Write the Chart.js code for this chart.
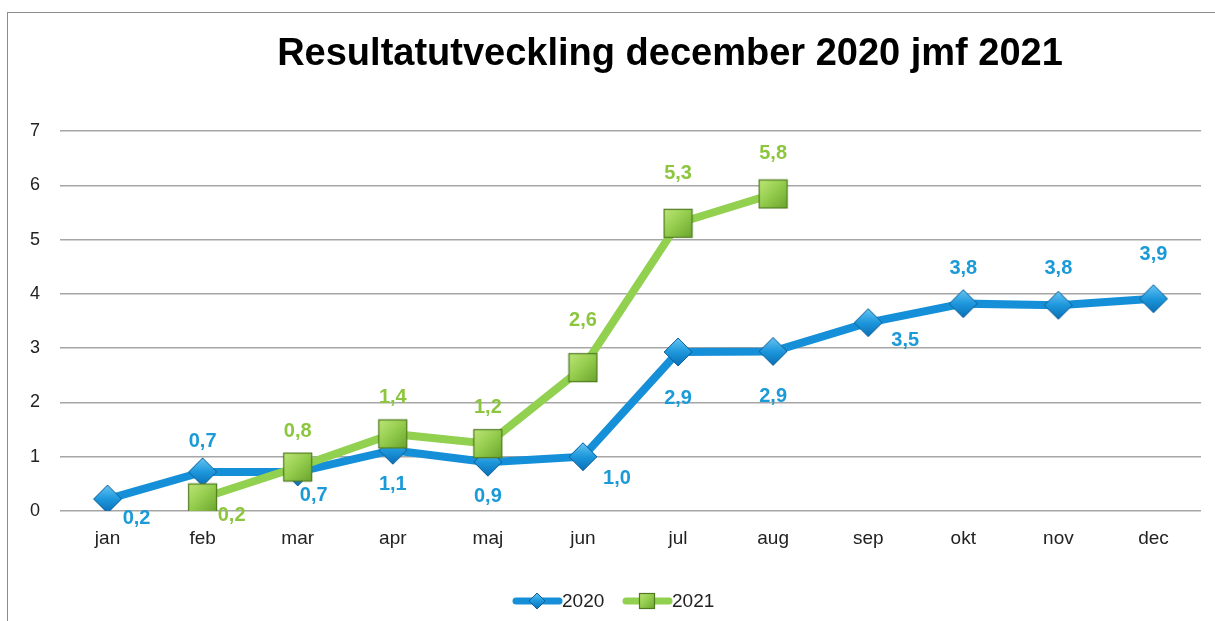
<!DOCTYPE html>
<html>
<head>
<meta charset="utf-8">
<script src="https://cdn.jsdelivr.net/npm/chart.js@4"></script>
<style>
  html, body { margin: 0; padding: 0; background: #fff; }
  #wrap { position: relative; width: 1215px; height: 621px; overflow: hidden; }
  #frame { position: absolute; left: 7px; top: 12px; width: 1300px; height: 700px; border: 1.5px solid #8c8c8c; box-sizing: border-box; }
  #c { position: absolute; left: 0; top: 0; }
</style>
</head>
<body>
<div id="wrap">
  <div id="frame"></div>
  <canvas id="c" width="1215" height="621"></canvas>
</div>
<script>
// Resultatutveckling per manad, 2020 mot 2021
const TITLE = "Resultatutveckling december 2020 jmf 2021";
const months = ["jan", "feb", "mar", "apr", "maj", "jun", "jul", "aug", "sep", "okt", "nov", "dec"];
const yTicks = [0, 1, 2, 3, 4, 5, 6, 7];
const res2020 = [0.22, 0.72, 0.72, 1.12, 0.9, 1.0, 2.93, 2.94, 3.47, 3.82, 3.79, 3.91];
const res2021 = [null, 0.24, 0.81, 1.42, 1.24, 2.64, 5.3, 5.84, null, null, null, null];

// var etiketterna hamnar i forhallande till punkten (dx, dy)
const offs2020 = [[29, 19], [0, -30], [16, 24], [0, 34], [0, 34], [34, 22], [0, 47], [0, 45], [37, 18], [0, -35], [0, -37], [0, -44]];
const offs2021 = [null, [29, 18], [0, -36], [0, -36], [0, -36], [0, -47], [0, -50], [0, -40]];

const BLUE = "#1590d8", GREEN = "#92d050";
const BLUE_TXT = "#1b9ad8", GREEN_TXT = "#8cc63f";
const FONT = "Arial, 'Liberation Sans', sans-serif";

function diamond(size) {
  const c = document.createElement("canvas");
  c.width = c.height = size;
  const g = c.getContext("2d");
  const h = size / 2;
  const grad = g.createLinearGradient(0, 0, 0, size);
  grad.addColorStop(0, "#6cc8f4");
  grad.addColorStop(0.5, "#1d97dc");
  grad.addColorStop(1, "#0a6db4");
  g.beginPath();
  g.moveTo(h, 1); g.lineTo(size - 1, h); g.lineTo(h, size - 1); g.lineTo(1, h); g.closePath();
  g.fillStyle = grad; g.fill();
  g.strokeStyle = "#0d5f98"; g.lineWidth = 1; g.stroke();
  return c;
}

function square(size) {
  const c = document.createElement("canvas");
  c.width = c.height = size;
  const g = c.getContext("2d");
  const grad = g.createLinearGradient(0, 0, size, size);
  grad.addColorStop(0, "#c2e87c");
  grad.addColorStop(0.5, "#93cc4c");
  grad.addColorStop(1, "#66a02a");
  g.fillStyle = grad;
  g.fillRect(1, 1, size - 2, size - 2);
  g.strokeStyle = "#4f7a20"; g.lineWidth = 1.2;
  g.strokeRect(1.5, 1.5, size - 3, size - 3);
  return c;
}

const fmt = v => v.toFixed(1).replace(".", ",");
const dIcon = diamond(18), sIcon = square(18);

const extras = {
  id: "extras",
  afterDatasetsDraw(chart) {
    const ctx = chart.ctx;
    ctx.save();
    ctx.textAlign = "center";
    ctx.textBaseline = "middle";
    ctx.font = "bold 20px " + FONT;
    [[0, res2020, offs2020, BLUE_TXT], [1, res2021, offs2021, GREEN_TXT]].forEach(([i, vals, offs, col]) => {
      const meta = chart.getDatasetMeta(i);
      ctx.fillStyle = col;
      vals.forEach((v, j) => {
        if (v == null) return;
        const p = meta.data[j];
        ctx.fillText(fmt(v), p.x + offs[j][0], p.y + offs[j][1]);
      });
    });

    // titel
    ctx.fillStyle = "#000";
    ctx.font = "bold 38px " + FONT;
    ctx.fillText(TITLE, 670, 55);

    // legend
    ctx.font = "19px " + FONT;
    ctx.textAlign = "left";
    const items = [["2020", BLUE, dIcon, 513], ["2021", GREEN, sIcon, 623]];
    items.forEach(([lbl, col, icon, x]) => {
      ctx.strokeStyle = col; ctx.lineWidth = 7; ctx.lineCap = "round";
      ctx.beginPath(); ctx.moveTo(x + 3, 601); ctx.lineTo(x + 46, 601); ctx.stroke();
      ctx.drawImage(icon, x + 24 - 9, 601 - 9, 18, 18);
      ctx.fillStyle = "#222";
      ctx.fillText(lbl, x + 49, 602);
    });
    ctx.restore();
  }
};

new Chart(document.getElementById("c"), {
  type: "line",
  data: {
    labels: months,
    datasets: [
      {
        label: "2020", data: res2020, order: 1,
        borderColor: BLUE, borderWidth: 8, tension: 0,
        pointStyle: diamond(30), pointRadius: 15, pointHoverRadius: 15,
      },
      {
        label: "2021", data: res2021, order: 0,
        borderColor: GREEN, borderWidth: 8, tension: 0,
        pointStyle: square(31), pointRadius: 15, pointHoverRadius: 15,
      },
    ],
  },
  options: {
    responsive: false,
    animation: false,
    layout: { autoPadding: false, padding: { top: 131, right: 14, left: 0, bottom: 0 } },
    plugins: { legend: { display: false }, tooltip: { enabled: false }, title: { display: false } },
    scales: {
      x: {
        offset: true,
        grid: { display: false, drawTicks: false },
        border: { display: false },
        ticks: { color: "#222", font: { size: 19, family: FONT }, padding: 16 },
        afterFit: s => { s.height = 110; },
      },
      y: {
        min: 0, max: 7,
        afterBuildTicks: s => { s.ticks = yTicks.map(v => ({ value: v })); },
        grid: { color: "#a6a6a6", lineWidth: 1.5, drawTicks: false },
        border: { display: false },
        ticks: { color: "#222", font: { size: 18, family: FONT }, padding: 20 },
        afterFit: s => { s.width = 60; },
      },
    },
  },
  plugins: [extras],
});
</script>
</body>
</html>
